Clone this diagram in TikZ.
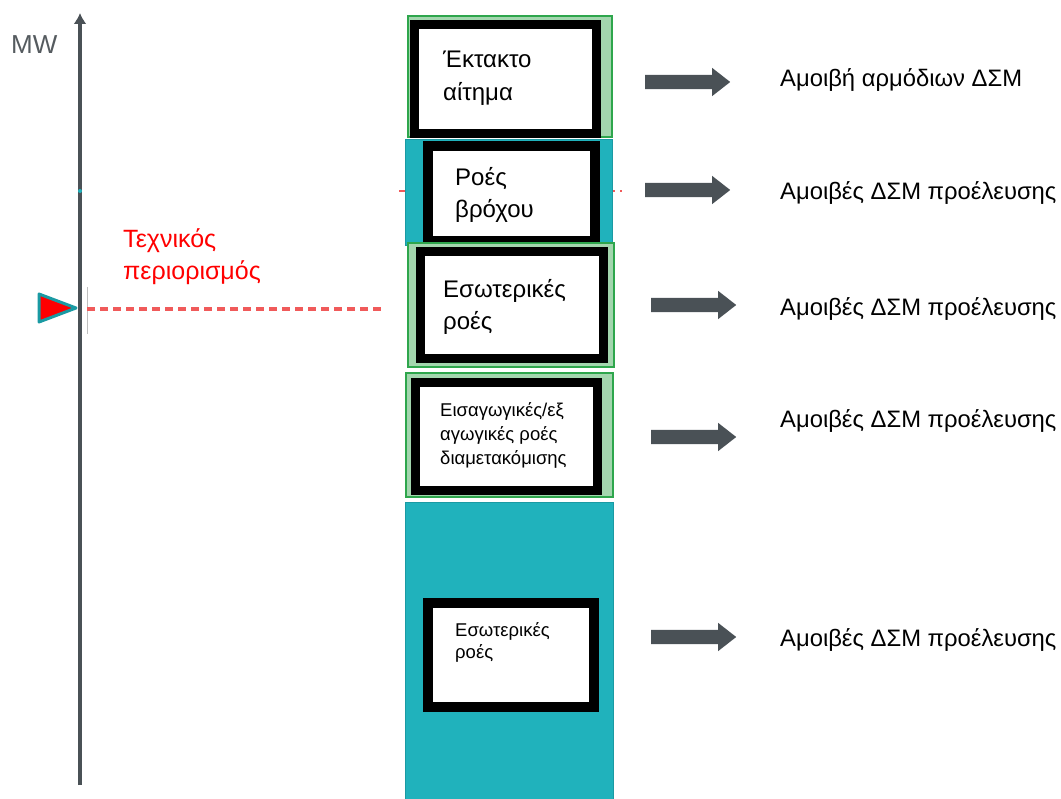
\documentclass[tikz,border=0pt]{standalone}
\usepackage{fontspec}
\setmainfont{Liberation Sans}
\usetikzlibrary{shapes.arrows,arrows.meta}
\definecolor{tealc}{HTML}{20B2BC}
\definecolor{tealb}{HTML}{1A9AA3}
\definecolor{greenb}{HTML}{2EA64C}
\definecolor{greenl}{HTML}{A3D6AE}
\definecolor{axisgray}{HTML}{4A5156}
\definecolor{mwgray}{HTML}{555B5F}
\definecolor{dashred}{HTML}{F05A5A}
\begin{document}
\begin{tikzpicture}[x=1pt,y=-1pt,
  greenbox/.style={draw=greenb,line width=2pt,fill=greenl,inner sep=0,outer sep=0,anchor=north west},
  tealbox/.style={draw=tealb,line width=1pt,fill=tealc,inner sep=0,outer sep=0,anchor=north west},
  frame/.style={draw=black,line width=9pt,fill=white,inner sep=0,outer sep=0,anchor=north west},
  blockarrow/.style={single arrow,fill=axisgray,draw=none,inner xsep=0pt,inner ysep=7pt,
    single arrow head extend=7pt,single arrow tip angle=76,minimum height=85pt,anchor=west},
  bigtxt/.style={font=\fontsize{24}{28}\selectfont,anchor=base west,inner sep=0},
  smalltxt/.style={font=\fontsize{18.5}{22}\selectfont,anchor=base west,inner sep=0},
  sidetxt/.style={font=\fontsize{23.8}{28}\selectfont,anchor=base west,inner sep=0},
  redtxt/.style={font=\fontsize{25}{29}\selectfont,text=red,anchor=base west,inner sep=0},
  limit/.style={draw=dashred,line width=3.5pt,dash pattern=on 8pt off 5pt}
]
\useasboundingbox (0,0) rectangle (1061,799);
% axis
\coordinate (axb) at (80,785);
\coordinate (axt) at (80,13);
\draw[axisgray,line width=4pt,-{Latex[length=11pt,width=13pt]}] (axb) -- (axt);
\node[font=\fontsize{26}{30}\selectfont,text=mwgray,anchor=base west,inner sep=0] (mw) at (11,54) {MW};
\coordinate (tk1) at (87,287);
\coordinate (tk2) at (87,334);
\draw[gray!50,line width=1pt] (tk1) -- (tk2);
% technical limit
\coordinate (la) at (87,309);
\coordinate (lb) at (383,309);
\draw[limit] (la) -- (lb);
\draw[fill=red,draw=tealb,line width=3pt,line join=round] (39,294) -- (76,308) -- (39,322) -- cycle;
\node[redtxt] (t1) at (123,248) {Τεχνικός};
\node[redtxt] (t2) at (123,280) {περιορισμός};
% dashed line behind box 2
\coordinate (da) at (399,191);
\coordinate (db) at (622,191);
\draw[limit,line width=2.5pt] (da) -- (db);
\fill[tealc] (80,191) circle (2pt);
% box 1
\node[greenbox,minimum width=204pt,minimum height=121pt] (g1) at (408,16) {};
\node[frame,minimum width=182pt,minimum height=109pt] (f1) at (414.5,24.5) {};
\node[bigtxt] (x1a) at (443,68) {Έκτακτο};
\node[bigtxt] (x1b) at (443,101) {αίτημα};
% box 2
\node[tealbox,minimum width=207pt,minimum height=106pt] (g2) at (405,140) {};
\node[frame,line width=10pt,minimum width=167pt,minimum height=95pt] (f2) at (428,146) {};
\node[bigtxt] (x2a) at (455,186) {Ροές};
\node[bigtxt] (x2b) at (455,218) {βρόχου};
% box 3
\node[greenbox,minimum width=206pt,minimum height=124pt] (g3) at (408,243) {};
\node[frame,minimum width=183pt,minimum height=107pt] (f3) at (420.5,251.5) {};
\node[bigtxt] (x3a) at (443,298) {Εσωτερικές};
\node[bigtxt] (x3b) at (443,330) {ροές};
% box 4
\node[greenbox,minimum width=207pt,minimum height=124pt] (g4) at (406,373) {};
\node[frame,minimum width=182pt,minimum height=108pt] (f4) at (415.5,382.5) {};
\node[smalltxt] (x4a) at (440,417) {Εισαγωγικές/εξ};
\node[smalltxt] (x4b) at (440,441) {αγωγικές ροές};
\node[smalltxt] (x4c) at (440,465) {διαμετακόμισης};
% box 5
\node[tealbox,minimum width=208pt,minimum height=300pt] (g5) at (405,503) {};
\node[frame,line width=10pt,minimum width=166pt,minimum height=104pt] (f5) at (428,603) {};
\node[smalltxt] (x5a) at (455,636) {Εσωτερικές};
\node[smalltxt] (x5b) at (455,658) {ροές};
% arrows
\node[blockarrow] (a1) at (645,82) {};
\node[blockarrow] (a2) at (645,190) {};
\node[blockarrow] (a3) at (651,305) {};
\node[blockarrow] (a4) at (651,437) {};
\node[blockarrow] (a5) at (651,637) {};
% side texts
\node[sidetxt] (s1) at (780,87) {Αμοιβή αρμόδιων ΔΣΜ};
\node[sidetxt] (s2) at (780,200) {Αμοιβές ΔΣΜ προέλευσης};
\node[sidetxt] (s3) at (780,316) {Αμοιβές ΔΣΜ προέλευσης};
\node[sidetxt] (s4) at (780,428) {Αμοιβές ΔΣΜ προέλευσης};
\node[sidetxt] (s5) at (780,646) {Αμοιβές ΔΣΜ προέλευσης};
\end{tikzpicture}
\end{document}
